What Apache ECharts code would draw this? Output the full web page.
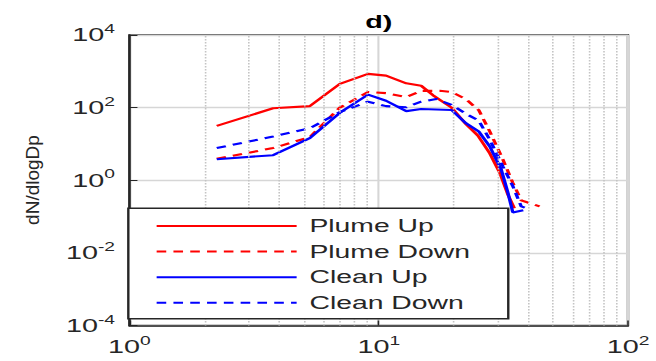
<!DOCTYPE html>
<html>
<head>
<meta charset="utf-8">
<script src="https://cdn.jsdelivr.net/npm/echarts@6/dist/echarts.min.js"></script>
<style>
  html, body { margin: 0; padding: 0; background: #fff; overflow: hidden; }
  #wrap { width: 656px; height: 361px; overflow: hidden; }
  /* the figure is laid out narrow and widened, giving its wide lettering */
  #chart { width: 410px; height: 361px; transform: scaleX(1.6); transform-origin: 0 0; }
</style>
</head>
<body>
<div id="wrap"><div id="chart"></div></div>
<script>
// Particle size distributions: diameter Dp vs dN/dlogDp
const seriesNames = ['Plume Up', 'Plume Down', 'Clean Up', 'Clean Down'];

const plumeUpDp   = [2.24, 3.77, 5.29, 6.98, 9.06, 10.7, 12.9, 14.8, 16.5, 19.6, 22.4, 25.0, 27.9, 30.6, 33.0, 35.0];
const plumeUpN    = [31.5, 96, 110, 450, 850, 760, 466, 400, 220, 100, 35, 17, 5.5, 1.6, 0.4, 0.17];

const plumeDownDp = [2.24, 3.77, 5.29, 6.98, 9.06, 10.7, 12.9, 14.8, 17.6, 19.6, 22.4, 25.2, 27.9, 31.5, 34.5, 37.3, 44.2];
const plumeDownN  = [3.9, 7.7, 15.4, 100, 270, 250, 195, 290, 290, 270, 170, 85, 22, 3.7, 0.85, 0.28, 0.19];

const cleanUpDp   = [2.24, 3.77, 5.29, 6.98, 9.06, 10.7, 12.9, 14.8, 19.6, 22.4, 25.2, 27.9, 31.0, 33.0, 34.5, 38.0];
const cleanUpN    = [3.8, 4.9, 14.5, 72, 228, 155, 80, 92, 86, 37, 22, 8.5, 2.0, 0.45, 0.13, 0.15];

const cleanDownDp = [2.24, 3.77, 5.29, 6.98, 9.06, 10.7, 12.9, 14.8, 17.0, 19.6, 22.4, 25.2, 27.9, 31.5, 34.5, 37.3, 40.3];
const cleanDownN  = [7.7, 16, 27, 75, 146, 110, 102, 146, 173, 119, 67, 44, 13, 2.4, 0.69, 0.19, 0.16];

// dotted minor grid positions on the diameter axis
const minorGridDp = [2, 3, 4, 5, 6, 7, 8, 9, 20, 30, 40, 50, 60, 70, 80, 90];

const FONT = 'Liberation Sans, Arial, Helvetica, sans-serif';
const INK = '#262626';
const RED = '#ff0000';
const BLUE = '#0000ff';

function pairs(xs, ys) { return xs.map((x, i) => [x, ys[i]]); }

function powerLabel(v) {
  const e = Math.round(Math.log10(v));
  return '{b|10}{s|' + e + '}';
}
const powerRich = {
  b: { fontFamily: FONT, fontSize: 18, color: INK, lineHeight: 24 },
  s: { fontFamily: FONT, fontSize: 12, color: INK, lineHeight: 12, verticalAlign: 'top' }
};

function lineSeries(name, xs, ys, color, dashed) {
  return {
    name: name,
    type: 'line',
    data: pairs(xs, ys),
    symbol: 'none',
    z: 3,
    lineStyle: { color: color, width: 2.1, type: dashed ? [6, 4.5] : 'solid' },
    itemStyle: { color: color }
  };
}

const chart = echarts.init(document.getElementById('chart'), null, { renderer: 'svg' });

chart.setOption({
  animation: false,
  backgroundColor: '#fff',
  title: {
    text: 'd)',
    left: 236.7,
    top: 13,
    padding: 0,
    textAlign: 'center',
    textStyle: { fontFamily: FONT, fontSize: 18, fontWeight: 'bold', color: '#000' }
  },
  grid: {
    left: 80.9, right: 17.5, top: 35, bottom: 35.5,
    show: true, borderColor: INK, borderWidth: 1.5, backgroundColor: '#fff'
  },
  legend: {
    data: seriesNames,
    orient: 'vertical',
    left: 80.2,
    top: 208.3,
    itemWidth: 87.5,
    itemHeight: 14,
    itemGap: 5.6,
    padding: [7.7, 24, 6, 16.7],
    borderColor: INK,
    borderWidth: 1.5,
    borderRadius: 0,
    backgroundColor: '#fff',
    selectedMode: false,
    z: 10,
    // legend keys show only the line stroke
    itemStyle: { color: 'transparent', borderColor: 'transparent', borderWidth: 0, opacity: 0 },
    textStyle: { fontFamily: FONT, fontSize: 17.7, color: INK, lineHeight: 20, padding: [0, 0, 0, 3] }
  },
  xAxis: {
    type: 'log',
    logBase: 10,
    min: 1,
    max: 100,
    axisLine: { show: true, lineStyle: { color: INK, width: 1.5 } },
    axisTick: { show: true, inside: true, length: 5, lineStyle: { color: INK } },
    axisLabel: { margin: 9, formatter: powerLabel, rich: powerRich },
    splitLine: { show: true, lineStyle: { color: '#d6d6d6', width: 1.3 } }
  },
  yAxis: {
    type: 'log',
    logBase: 10,
    min: 1e-4,
    max: 1e4,
    interval: 2,
    axisLine: { show: true, lineStyle: { color: INK, width: 1.5 } },
    axisTick: { show: true, inside: true, length: 5, lineStyle: { color: INK } },
    axisLabel: { margin: 9, formatter: powerLabel, rich: powerRich },
    splitLine: { show: true, lineStyle: { color: '#d6d6d6', width: 1.3 } }
  },
  graphic: [{
    type: 'text',
    x: 20.6,
    y: 180,
    rotation: Math.PI / 2,
    scaleY: 1 / 1.6,
    style: {
      text: 'dN/dlogDp',
      font: '19px ' + FONT,
      fill: INK,
      textAlign: 'center',
      textVerticalAlign: 'middle'
    }
  }],
  series: [
    {
      name: 'minor grid',
      type: 'line',
      data: [],
      z: 1,
      silent: true,
      markLine: {
        silent: true,
        symbol: 'none',
        label: { show: false },
        lineStyle: { color: '#c4c4c4', width: 1, type: [1.5, 1.5] },
        data: minorGridDp.map(v => ({ xAxis: v }))
      }
    },
    lineSeries(seriesNames[0], plumeUpDp, plumeUpN, RED, false),
    lineSeries(seriesNames[1], plumeDownDp, plumeDownN, RED, true),
    lineSeries(seriesNames[2], cleanUpDp, cleanUpN, BLUE, false),
    lineSeries(seriesNames[3], cleanDownDp, cleanDownN, BLUE, true)
  ]
});
</script>
</body>
</html>
